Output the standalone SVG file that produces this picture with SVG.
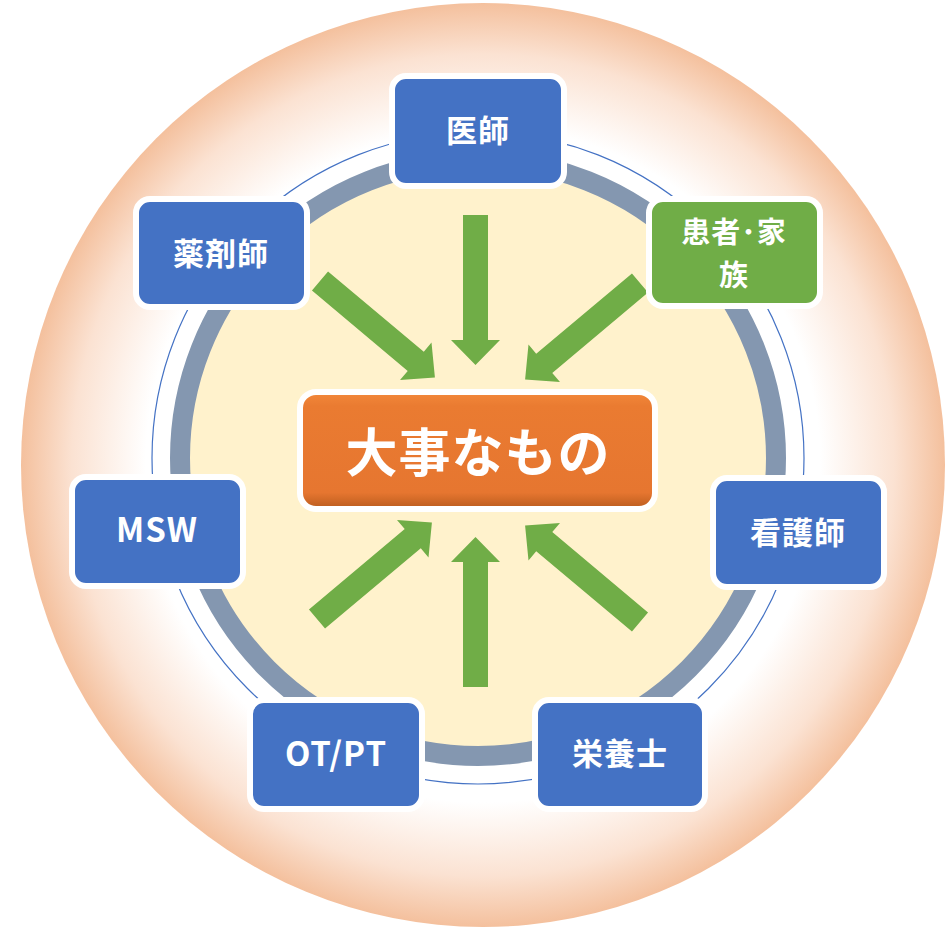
<svg xmlns="http://www.w3.org/2000/svg" width="952" height="929" viewBox="0 0 952 929">
<defs>
<radialGradient id="bg" cx="483" cy="465" r="462" gradientUnits="userSpaceOnUse">
<stop offset="0" stop-color="#ffffff"/>
<stop offset="0.73" stop-color="#ffffff"/>
<stop offset="0.89" stop-color="#fbe2d2"/>
<stop offset="1" stop-color="#f4c09d"/>
</radialGradient>
<linearGradient id="og" x1="0" y1="0" x2="0" y2="1">
<stop offset="0" stop-color="#f2883a"/>
<stop offset="0.12" stop-color="#ea7b31"/>
<stop offset="0.86" stop-color="#e67630"/>
<stop offset="1" stop-color="#b95b1d"/>
</linearGradient>
<polygon id="arr" points="0,-12.5 125,-12.5 125,-24.5 150,0 125,24.5 125,12.5 0,12.5"/>
</defs>
<style>
.node rect{stroke:#ffffff;stroke-width:6}
.blue{fill:#4472c4}
.green{fill:#70ad47}
.lbl{fill:#ffffff;font-family:"Noto Sans CJK JP","Noto Sans",sans-serif;font-weight:bold;font-size:31px;text-anchor:middle;dominant-baseline:central;letter-spacing:1px}
.arrows use{fill:#70ad47}
</style>
<circle cx="483" cy="465" r="462" fill="url(#bg)"/>
<circle cx="478" cy="458" r="326" fill="none" stroke="#4472c4" stroke-width="1.2"/>
<circle cx="478" cy="458" r="298" fill="#fff2cc" stroke="#8497b0" stroke-width="20"/>
<g id="connectors" class="arrows">
<use href="#arr" transform="translate(475.5,215) rotate(90)"/>
<use href="#arr" transform="translate(320,281) rotate(40)"/>
<use href="#arr" transform="translate(640,283) rotate(140)"/>
<use href="#arr" transform="translate(317,619) rotate(-40)"/>
<use href="#arr" transform="translate(640,622) rotate(-140)"/>
<use href="#arr" transform="translate(475.5,687) rotate(-90)"/>
</g>
<g id="center">
<rect x="300" y="392" width="355" height="117" rx="16" fill="url(#og)" stroke="#ffffff" stroke-width="6"/>
<text x="478" y="449" class="lbl" style="font-size:52px;letter-spacing:1px">大事なもの</text>
</g>
<g id="n-ishi" class="node">
<rect x="392" y="76" width="172" height="110" rx="14" class="blue"/>
<text x="478" y="128" class="lbl">医師</text>
</g>
<g id="n-kanja" class="node">
<rect x="649" y="199" width="171" height="107" rx="14" class="green"/>
<text x="734" y="230" class="lbl" style="font-size:29px">患者･家</text>
<text x="734" y="273" class="lbl" style="font-size:29px">族</text>
</g>
<g id="n-yakuzaishi" class="node">
<rect x="136" y="199" width="171" height="108" rx="14" class="blue"/>
<text x="221" y="251" class="lbl">薬剤師</text>
</g>
<g id="n-msw" class="node">
<rect x="72" y="477" width="171" height="109" rx="14" class="blue"/>
<text x="157" y="528" class="lbl" style="font-size:33px">MSW</text>
</g>
<g id="n-kangoshi" class="node">
<rect x="713" y="478" width="171" height="109" rx="14" class="blue"/>
<text x="798" y="530" class="lbl">看護師</text>
</g>
<g id="n-otpt" class="node">
<rect x="250" y="700" width="172" height="109" rx="14" class="blue"/>
<text x="336" y="752" class="lbl" style="font-size:33px">OT/PT</text>
</g>
<g id="n-eiyoshi" class="node">
<rect x="535" y="700" width="170" height="109" rx="14" class="blue"/>
<text x="620" y="751" class="lbl">栄養士</text>
</g>
</svg>
